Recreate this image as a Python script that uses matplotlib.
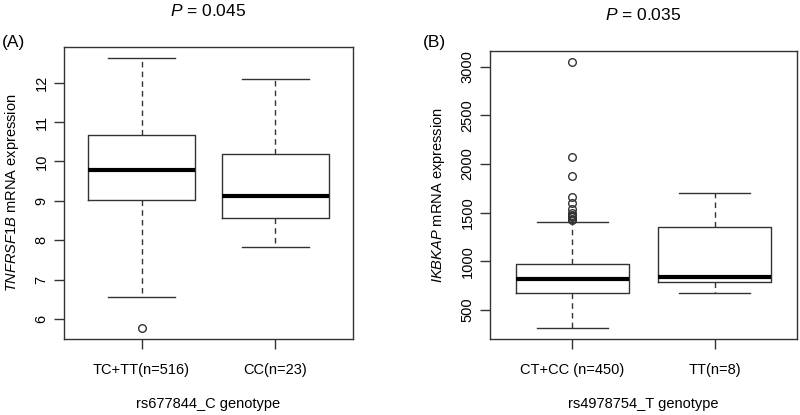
import matplotlib
matplotlib.use("Agg")
import matplotlib.pyplot as plt

plt.rcParams['font.family'] = ['Liberation Sans', 'DejaVu Sans']
plt.rcParams['mathtext.fontset'] = 'custom'
plt.rcParams['mathtext.rm'] = 'Liberation Sans'
plt.rcParams['mathtext.it'] = 'Liberation Sans:italic'

# Panel A data
a_labels = ["TC+TT(n=516)", "CC(n=23)"]
a_whislo = [6.55, 7.83]
a_q1 = [9.02, 8.57]
a_med = [9.77, 9.12]
a_q3 = [10.67, 10.19]
a_whishi = [12.62, 12.09]
a_fliers = [[5.77], []]
a_yticks = [6, 7, 8, 9, 10, 11, 12]

# Panel B data
b_labels = ["CT+CC (n=450)", "TT(n=8)"]
b_whislo = [315, 671]
b_q1 = [671, 781]
b_med = [815, 842]
b_q3 = [969, 1351]
b_whishi = [1403, 1707]
b_fliers = [[3054, 2077, 1875, 1660, 1600, 1540, 1500, 1480, 1465, 1450, 1435, 1420], []]
b_yticks = [500, 1000, 1500, 2000, 2500, 3000]

COL = '#333333'
FS = 10.5

fig = plt.figure(figsize=(8, 4.15), dpi=100)
axA = fig.add_axes([64/800, 1-339/415, (353-64)/800, (339-47)/415])
axB = fig.add_axes([490/800, 1-339/415, (797-490)/800, (339-50.7)/415])

def draw(ax, labels, wlo, q1, med, q3, whi, fliers, yticks, ylim, ylabel, xlabel, ptext):
    stats = []
    for i in range(len(labels)):
        stats.append(dict(whislo=wlo[i], q1=q1[i], med=med[i], q3=q3[i], whishi=whi[i], fliers=fliers[i]))
    ax.bxp(stats, positions=[1, 2], widths=0.8, capwidths=0.5, patch_artist=False,
           boxprops=dict(color=COL, lw=1.0),
           whiskerprops=dict(color=COL, lw=1.0, linestyle=(0, (4, 3))),
           capprops=dict(color=COL, lw=1.0),
           medianprops=dict(color='black', lw=3.0, solid_capstyle='butt'),
           flierprops=dict(marker='o', markersize=5.5, markerfacecolor='none',
                           markeredgecolor=COL, markeredgewidth=1.0))
    ax.set_xlim(0.42, 2.58)
    ax.set_ylim(*ylim)
    ax.set_yticks(yticks)
    ax.set_yticklabels([str(t) for t in yticks], rotation=90, va='center', fontsize=FS)
    ax.set_xticks([1, 2])
    ax.set_xticklabels(labels, fontsize=FS)
    ax.tick_params(direction='out', length=7, width=1.0, color=COL, pad=4)
    ax.tick_params(axis='x', pad=10)
    for s in ax.spines.values():
        s.set_color(COL)
        s.set_linewidth(1.0)
    ax.set_ylabel(ylabel, fontsize=FS, labelpad=10)
    ax.set_xlabel(xlabel, fontsize=FS, labelpad=15)
    ax.set_title(ptext, fontsize=12.5, pad=22)
    return ax

draw(axA, a_labels, a_whislo, a_q1, a_med, a_q3, a_whishi, a_fliers, a_yticks,
     (5.49, 12.906), r"$\mathit{TNFRSF1B}$ mRNA expression", "rs677844_C genotype",
     r"$\mathit{P}$ = 0.045")
draw(axB, b_labels, b_whislo, b_q1, b_med, b_q3, b_whishi, b_fliers, b_yticks,
     (199, 3167), r"$\mathit{IKBKAP}$ mRNA expression", "rs4978754_T genotype",
     r"$\mathit{P}$ = 0.035")

fig.text(2/800, 1-43/415, "(A)", fontsize=12.5, va='center', ha='left')
fig.text(423/800, 1-42/415, "(B)", fontsize=12.5, va='center', ha='left')

fig.savefig("out.png", dpi=100)
